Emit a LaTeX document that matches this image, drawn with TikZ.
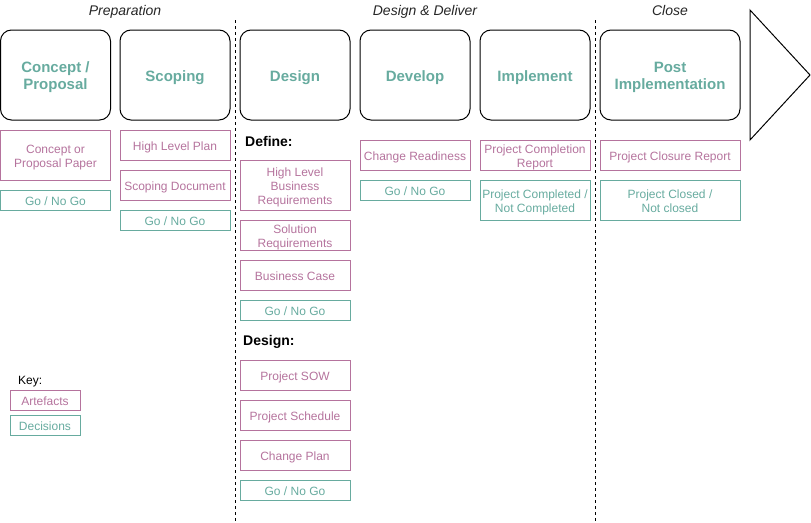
\documentclass[tikz,border=0pt]{standalone}
\usepackage{fontspec}
\setmainfont{Liberation Sans}
\definecolor{pinkc}{HTML}{B5739D}
\definecolor{tealc}{HTML}{67AB9F}
\newcommand\smtop{\rule{0pt}{12.8pt}}
\newcommand\smbot{\rule[-2.6pt]{0pt}{2.6pt}}
\newcommand\bgtop{\rule{0pt}{15.4pt}}
\newcommand\bgbot{\rule[-3.2pt]{0pt}{3.2pt}}
\begin{document}
\begin{tikzpicture}[x=1pt,y=-1pt,
  phase/.style={draw=black, rounded corners=11pt, line width=1pt, text=tealc,
    font=\fontsize{15}{17}\selectfont\bfseries, align=center, minimum height=90pt, inner sep=0pt,
    execute at begin node=\bgtop, execute at end node=\bgbot},
  box/.style={line width=1pt, font=\fontsize{12}{14}\selectfont, align=center, inner sep=0pt,
    execute at begin node=\smtop, execute at end node=\smbot},
  art/.style={box, draw=pinkc, text=pinkc},
  dec/.style={box, draw=tealc, text=tealc},
  hdr/.style={font=\fontsize{14}{16}\selectfont\itshape, text=black!85, anchor=base, inner sep=0pt},
  sub/.style={font=\fontsize{14}{16}\selectfont\bfseries, anchor=base west, inner sep=0pt},
  sep/.style={line width=1pt, dash pattern=on 3pt off 3pt}]
\useasboundingbox (0,0) rectangle (811,522);

% headers
\node[hdr] (hprep) at (125,15.7) {Preparation};
\node[hdr] (hdd) at (425,15.7) {Design \& Deliver};
\node[hdr] (hclose) at (670,15.7) {Close};

% separators
\coordinate (s1t) at (235.5,20); \coordinate (s1b) at (235.5,522);
\coordinate (s2t) at (595.5,20); \coordinate (s2b) at (595.5,522);
\draw[sep] (s1t) -- (s1b);
\draw[sep] (s2t) -- (s2b);

% phases
\node[phase, minimum width=110pt] (p1) at (55.5,75) {\bgtop Concept /\\Proposal};
\node[phase, minimum width=110pt] (p2) at (175,75) {Scoping};
\node[phase, minimum width=110pt] (p3) at (295,75) {Design};
\node[phase, minimum width=110pt] (p4) at (415,75) {Develop};
\node[phase, minimum width=110pt] (p5) at (535,75) {Implement};
\node[phase, minimum width=140pt] (p6) at (670,75) {\bgtop Post\\Implementation};

% arrow
\coordinate (ta) at (750,10);
\coordinate (tb) at (810,75);
\coordinate (tc) at (750,140);
\draw[line width=1pt, line join=miter] (ta) -- (tb) -- (tc) -- cycle;

% column 1
\node[art, minimum width=110pt, minimum height=50pt] (a11) at (55.5,155) {\smtop Concept or\\Proposal Paper};
\node[dec, minimum width=110pt, minimum height=20pt] (d11) at (55.5,200) {Go / No Go};

% column 2
\node[art, minimum width=110pt, minimum height=30pt] (a21) at (175,145) {High Level Plan};
\node[art, minimum width=110pt, minimum height=30pt] (a22) at (175,185) {Scoping Document};
\node[dec, minimum width=110pt, minimum height=20pt] (d21) at (175,220) {Go / No Go};

% column 3
\node[sub] (def) at (245,146) {Define:};
\node[art, minimum width=110pt, minimum height=50pt] (a31) at (295,185) {\smtop High Level\\Business\\Requirements};
\node[art, minimum width=110pt, minimum height=30pt] (a32) at (295,235) {\smtop Solution\\Requirements};
\node[art, minimum width=110pt, minimum height=30pt] (a33) at (295,275) {Business Case};
\node[dec, minimum width=110pt, minimum height=20pt] (d31) at (295,310) {Go / No Go};
\node[sub] (des) at (243,345.5) {Design:};
\node[art, minimum width=110pt, minimum height=30pt] (a34) at (295,375) {Project SOW};
\node[art, minimum width=110pt, minimum height=30pt] (a35) at (295,415) {Project Schedule};
\node[art, minimum width=110pt, minimum height=30pt] (a36) at (295,455) {Change Plan};
\node[dec, minimum width=110pt, minimum height=20pt] (d32) at (295,490) {Go / No Go};

% column 4
\node[art, minimum width=110pt, minimum height=30pt] (a41) at (415,155) {Change Readiness};
\node[dec, minimum width=110pt, minimum height=20pt] (d41) at (415,190) {Go / No Go};

% column 5
\node[art, minimum width=110pt, minimum height=30pt] (a51) at (535,155) {\smtop Project Completion\\Report};
\node[dec, minimum width=110pt, minimum height=40pt] (d51) at (535,200) {\smtop Project Completed /\\Not Completed};

% column 6
\node[art, minimum width=140pt, minimum height=30pt] (a61) at (670,155) {Project Closure Report};
\node[dec, minimum width=140pt, minimum height=40pt] (d61) at (670,200) {\smtop Project Closed /\\Not closed};

% key
\node[font=\fontsize{12}{14}\selectfont, anchor=base west, inner sep=0pt] (key) at (18,384.6) {Key:};
\node[art, minimum width=70pt, minimum height=20pt] (ka) at (45,400) {Artefacts};
\node[dec, minimum width=70pt, minimum height=20pt] (kd) at (45,425) {Decisions};
\end{tikzpicture}
\end{document}
